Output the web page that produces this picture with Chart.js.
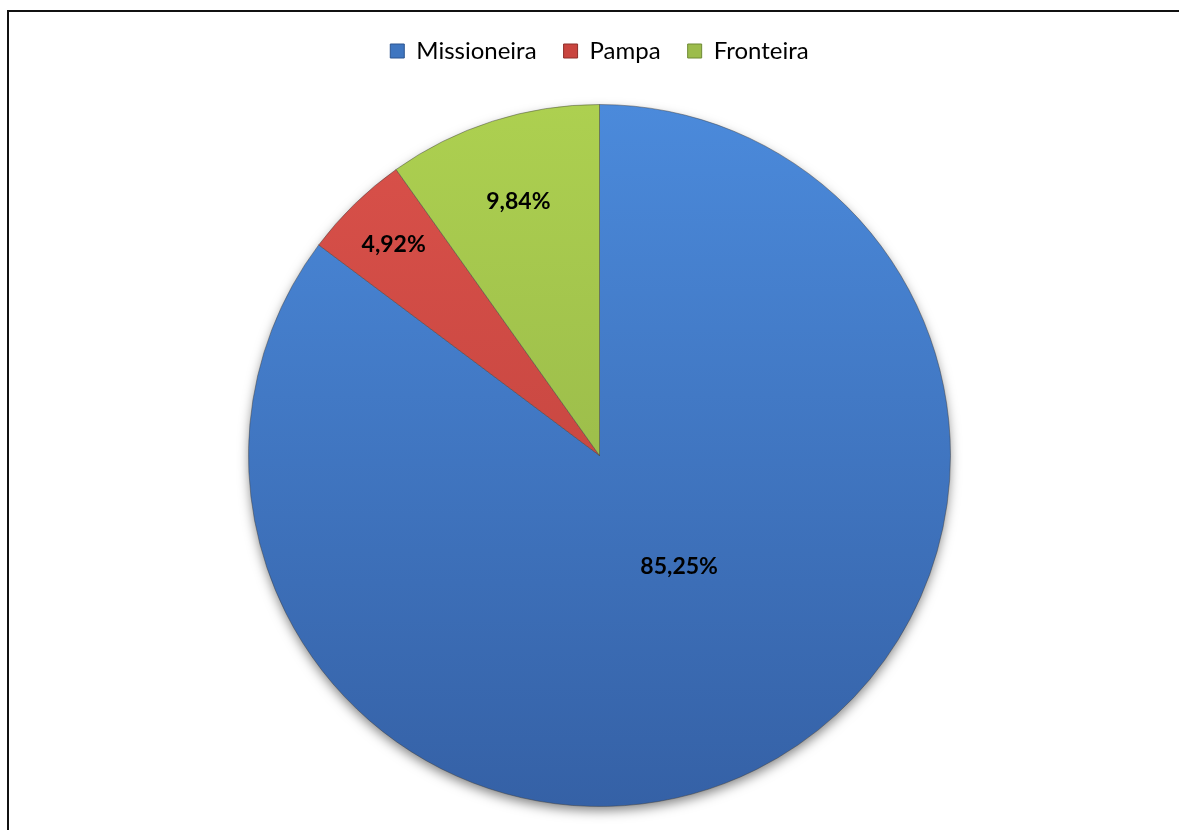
<!DOCTYPE html>
<html>
<head>
<meta charset="utf-8">
<title>Missioneira / Pampa / Fronteira</title>
<script src="https://cdn.jsdelivr.net/npm/chart.js@4"></script>
<style>
  html, body { margin: 0; padding: 0; background: #fff; overflow: hidden; height: 830px; }
  .frame { position: absolute; left: 7px; top: 10px; width: 1300px; height: 1000px;
           border-left: 2px solid #111; border-top: 2px solid #111; }
  #wrap { position: absolute; left: 0; top: 0; width: 1179px; height: 838px; }
</style>
</head>
<body>
<div class="frame"></div>
<div id="wrap"><canvas id="myChart"></canvas></div>
<script>
const regions = ['Missioneira', 'Pampa', 'Fronteira'];
const shares = [85.25, 4.92, 9.84];

// top / bottom shades of each slice
const palette = [
    ['#4b8adb', '#3561a6'],
    ['#da514a', '#b93f3a'],
    ['#add050', '#8dac46']
];
const legendColors = ['#3f76c0', '#c9453f', '#9cbc4c'];
const legendEdges = ['#2c5590', '#8f2f2b', '#6f8a35'];

// label distance from centre (fraction of radius) and angle nudge in degrees
const labelRadius = [0.39, 0.84, 0.76];
const labelNudge = [-9, 0, 0];

function fmt(v) {
    return v.toFixed(2).replace('.', ',') + '%';
}

function sliceFill(context) {
    const chart = context.chart;
    const area = chart.chartArea;
    const c = palette[context.dataIndex];
    if (!area) return c[0];
    const cy = (area.top + area.bottom) / 2;
    const g = chart.ctx.createLinearGradient(0, cy - 351, 0, cy + 351);
    g.addColorStop(0, c[0]);
    g.addColorStop(1, c[1]);
    return g;
}

const shadowPlugin = {
    id: 'pieShadow',
    beforeDatasetsDraw(chart) {
        const arc = chart.getDatasetMeta(0).data[0];
        if (!arc) return;
        const ctx = chart.ctx;
        ctx.save();
        ctx.shadowColor = 'rgba(0,0,0,0.5)';
        ctx.shadowBlur = 12;
        ctx.shadowOffsetY = 5;
        ctx.fillStyle = '#fff';
        ctx.beginPath();
        ctx.arc(arc.x, arc.y, arc.outerRadius - 1, 0, Math.PI * 2);
        ctx.fill();
        ctx.restore();
    }
};

const labelPlugin = {
    id: 'sliceLabels',
    afterDatasetsDraw(chart) {
        const ctx = chart.ctx;
        const meta = chart.getDatasetMeta(0);
        ctx.save();
        ctx.font = 'bold 23px Lato';
        ctx.fillStyle = '#000';
        ctx.textAlign = 'center';
        ctx.textBaseline = 'middle';
        meta.data.forEach((arc, i) => {
            const p = arc.getProps(['x', 'y', 'startAngle', 'endAngle', 'outerRadius'], true);
            const mid = (p.startAngle + p.endAngle) / 2 + labelNudge[i] * Math.PI / 180;
            const r = p.outerRadius * labelRadius[i];
            ctx.fillText(fmt(shares[i]), p.x + Math.cos(mid) * r, p.y + Math.sin(mid) * r);
        });
        ctx.restore();
    }
};

const data = {
    labels: regions,
    datasets: [{
        data: shares,
        backgroundColor: sliceFill,
        borderColor: 'rgba(60,60,60,0.45)',
        borderWidth: 1,
        radius: 351
    }]
};

const config = {
    type: 'pie',
    data: data,
    options: {
        responsive: true,
        maintainAspectRatio: false,
        animation: false,
        layout: { padding: { left: 20, right: 0, top: 12, bottom: 0 } },
        plugins: {
            tooltip: { enabled: false },
            legend: {
                position: 'top',
                labels: {
                    boxWidth: 14,
                    boxHeight: 14,
                    padding: 27,
                    color: '#000',
                    font: { family: 'Lato', size: 24 },
                    generateLabels: function (chart) {
                        return regions.map((name, i) => ({
                            text: name,
                            fillStyle: legendColors[i],
                            strokeStyle: legendEdges[i],
                            lineWidth: 1,
                            index: i,
                            hidden: false
                        }));
                    }
                }
            }
        }
    },
    plugins: [shadowPlugin, labelPlugin]
};

const myChart = new Chart(document.getElementById('myChart'), config);
</script>
</body>
</html>
